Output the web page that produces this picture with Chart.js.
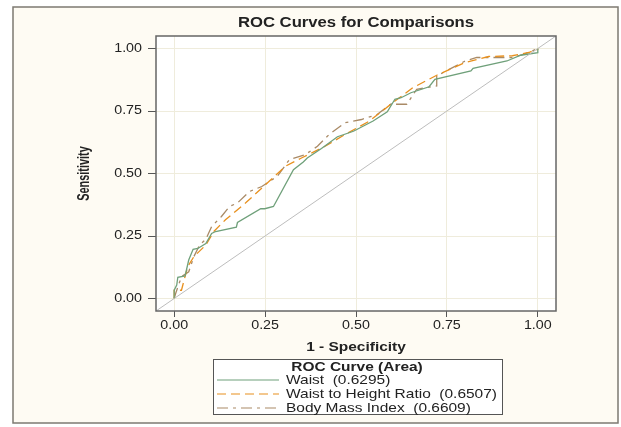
<!DOCTYPE html>
<html>
<head>
<meta charset="utf-8">
<script src="https://cdn.jsdelivr.net/npm/chart.js@4"></script>
<style>
  body { margin: 0; background: #ffffff; }
  canvas { display: block; }
</style>
</head>
<body>
<canvas id="roc" width="621" height="427"></canvas>
<script>
// valores (1 - especificidad, sensibilidad)
const waistFpr = [0, 0, 0.007, 0.01, 0.03, 0.04, 0.052, 0.065, 0.087, 0.103, 0.114, 0.171, 0.174, 0.238, 0.249, 0.273, 0.328, 0.355, 0.366, 0.405, 0.449, 0.493, 0.547, 0.586, 0.607, 0.624, 0.651, 0.701, 0.717, 0.816, 0.822, 0.915, 0.953, 1.0, 1.0];
const waistTpr = [0, 0.033, 0.054, 0.085, 0.09, 0.154, 0.197, 0.2, 0.22, 0.26, 0.268, 0.285, 0.304, 0.359, 0.359, 0.368, 0.515, 0.546, 0.562, 0.6, 0.647, 0.669, 0.71, 0.747, 0.797, 0.803, 0.823, 0.847, 0.877, 0.91, 0.921, 0.95, 0.973, 0.983, 1.0];

const whtrFpr = [0, 0, 0.02, 0.037, 0.054, 0.087, 0.109, 0.141, 0.196, 0.251, 0.306, 0.35, 0.415, 0.47, 0.537, 0.601, 0.656, 0.722, 0.8, 0.865, 0.93, 0.975, 1.0, 1.0];
const whtrTpr = [0, 0.033, 0.033, 0.127, 0.167, 0.214, 0.268, 0.315, 0.382, 0.455, 0.529, 0.562, 0.609, 0.656, 0.71, 0.783, 0.843, 0.893, 0.944, 0.968, 0.971, 0.984, 0.997, 1.0];

const bmiFpr = [0, 0.004, 0.02, 0.04, 0.054, 0.07, 0.087, 0.103, 0.13, 0.152, 0.174, 0.207, 0.241, 0.284, 0.317, 0.361, 0.394, 0.426, 0.47, 0.515, 0.558, 0.601, 0.61, 0.64, 0.667, 0.722, 0.722, 0.8, 0.832, 0.93, 0.962, 1.0];
const bmiTpr = [0, 0.02, 0.087, 0.107, 0.167, 0.214, 0.237, 0.288, 0.328, 0.368, 0.382, 0.428, 0.448, 0.489, 0.556, 0.576, 0.609, 0.656, 0.703, 0.716, 0.736, 0.783, 0.777, 0.777, 0.837, 0.85, 0.89, 0.95, 0.964, 0.964, 0.977, 1.0];

const refLine = [-0.06, 1.06];

const seriesNames = ["Waist", "Waist to Height Ratio", "Body Mass Index"];
const aucValues = ["0.6295", "0.6507", "0.6609"];
const xTicks = [0, 0.25, 0.5, 0.75, 1];
const yTicks = [0, 0.25, 0.5, 0.75, 1];

const colores = ["#6fa07a", "#e8901e", "#a98a66"];
const guiones = [[], [9, 5], [11, 5, 3, 5]];
const SX = 1.19; // el original esta estirado a lo ancho

function pares(xs, ys) {
  return xs.map((x, i) => ({ x: x, y: ys[i] }));
}

function texto(ctx, t, x, y, font, align) {
  ctx.save();
  ctx.font = font;
  ctx.fillStyle = "#222222";
  ctx.textAlign = align || "center";
  ctx.textBaseline = "middle";
  ctx.translate(x, y);
  ctx.scale(SX, 1);
  ctx.fillText(t, 0, 0);
  ctx.restore();
}

const fondo = {
  id: "fondo",
  beforeDraw(chart) {
    const ctx = chart.ctx;
    const a = chart.chartArea;
    ctx.save();
    ctx.fillStyle = "#ffffff";
    ctx.fillRect(0, 0, chart.width, chart.height);
    ctx.fillStyle = "#fefbf3";
    ctx.fillRect(13, 7, 605, 416);
    ctx.strokeStyle = "#7d7a72";
    ctx.lineWidth = 1.5;
    ctx.strokeRect(13, 7, 605, 416);
    ctx.fillStyle = "#ffffff";
    ctx.fillRect(a.left, a.top, a.right - a.left, a.bottom - a.top);
    ctx.restore();
  },
  afterDraw(chart) {
    const ctx = chart.ctx;
    const a = chart.chartArea;
    const sx = chart.scales.x;
    const sy = chart.scales.y;
    ctx.save();
    ctx.strokeStyle = "#666666";
    ctx.lineWidth = 1.5;
    ctx.strokeRect(a.left, a.top, a.right - a.left, a.bottom - a.top);
    ctx.restore();

    xTicks.forEach(v => texto(ctx, v.toFixed(2), sx.getPixelForValue(v), a.bottom + 15, "12px 'Liberation Sans'"));
    yTicks.forEach(v => texto(ctx, v.toFixed(2), a.left - 14, sy.getPixelForValue(v), "12px 'Liberation Sans'", "right"));

    texto(ctx, "ROC Curves for Comparisons", (a.left + a.right) / 2, 23, "bold 14px 'Liberation Sans'");
    texto(ctx, "1 - Specificity", (a.left + a.right) / 2, 347, "bold 13px 'Liberation Sans'");

    // eje y: letra estrecha
    ctx.save();
    ctx.translate(85, (a.top + a.bottom) / 2);
    ctx.rotate(-Math.PI / 2);
    ctx.scale(0.84, 1.2);
    ctx.font = "bold 13px 'Liberation Sans'";
    ctx.fillStyle = "#222222";
    ctx.textAlign = "center";
    ctx.textBaseline = "middle";
    ctx.fillText("Sensitivity", 0, 0);
    ctx.restore();

    // leyenda
    ctx.save();
    ctx.fillStyle = "#ffffff";
    ctx.fillRect(213, 359, 289, 55);
    ctx.strokeStyle = "#555555";
    ctx.lineWidth = 1;
    ctx.strokeRect(213.5, 359.5, 289, 55);
    ctx.restore();
    texto(ctx, "ROC Curve (Area)", 357, 367, "bold 13px 'Liberation Sans'");
    seriesNames.forEach((n, i) => {
      const y = 380 + i * 14;
      ctx.save();
      ctx.strokeStyle = colores[i];
      ctx.lineWidth = 1.2;
      ctx.setLineDash(guiones[i]);
      ctx.beginPath();
      ctx.moveTo(217, y);
      ctx.lineTo(279, y);
      ctx.stroke();
      ctx.restore();
      texto(ctx, n + "  (" + aucValues[i] + ")", 286, y, "13px 'Liberation Sans'", "left");
    });
  }
};

const grid = {
  color: "#efecdc",
  tickColor: "#555555",
  drawTicks: true
};

new Chart(document.getElementById("roc"), {
  type: "scatter",
  data: {
    datasets: [
      {
        label: "Diagonal",
        data: pares(refLine, refLine),
        borderColor: "#bdbdbd",
        borderWidth: 1
      },
      {
        label: seriesNames[0],
        data: pares(waistFpr, waistTpr),
        borderColor: colores[0],
        borderWidth: 1.3,
        borderDash: guiones[0]
      },
      {
        label: seriesNames[1],
        data: pares(whtrFpr, whtrTpr),
        borderColor: colores[1],
        borderWidth: 1.3,
        borderDash: guiones[1]
      },
      {
        label: seriesNames[2],
        data: pares(bmiFpr, bmiTpr),
        borderColor: colores[2],
        borderWidth: 1.3,
        borderDash: guiones[2]
      }
    ]
  },
  options: {
    responsive: false,
    animation: false,
    showLine: true,
    pointRadius: 0,
    pointHoverRadius: 0,
    layout: { padding: { top: 36, right: 65, left: 0, bottom: 0 } },
    plugins: {
      legend: { display: false },
      tooltip: { enabled: false }
    },
    scales: {
      x: {
        type: "linear",
        min: -0.05,
        max: 1.05,
        afterBuildTicks: s => { s.ticks = xTicks.map(v => ({ value: v })); },
        afterFit: s => { s.height = 116; },
        ticks: { display: false },
        grid: Object.assign({}, grid, { tickLength: 6 }),
        border: { display: false }
      },
      y: {
        type: "linear",
        min: -0.05,
        max: 1.05,
        afterBuildTicks: s => { s.ticks = yTicks.map(v => ({ value: v })); },
        afterFit: s => { s.width = 156; },
        ticks: { display: false },
        grid: Object.assign({}, grid, { tickLength: 8 }),
        border: { display: false }
      }
    }
  },
  plugins: [fondo]
});
</script>
</body>
</html>
